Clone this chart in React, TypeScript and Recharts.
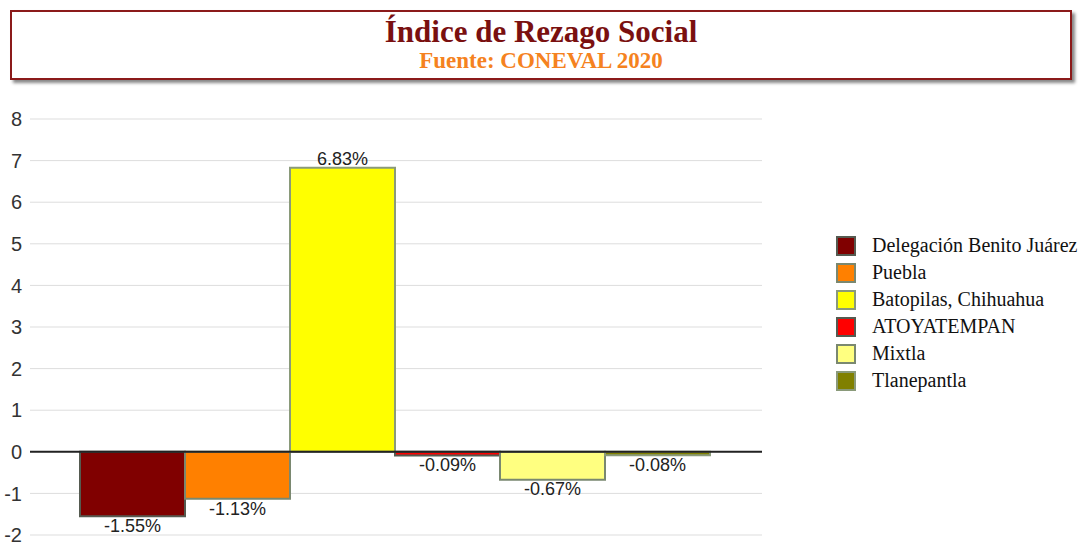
import { BarChart, Bar, XAxis, YAxis, CartesianGrid, ReferenceLine, LabelList } from "recharts";

const municipios = [
  "Delegación Benito Juárez",
  "Puebla",
  "Batopilas, Chihuahua",
  "ATOYATEMPAN",
  "Mixtla",
  "Tlanepantla",
];
const indices = [-1.55, -1.13, 6.83, -0.09, -0.67, -0.08];
const colores = ["#800000", "#ff8000", "#ffff00", "#ff0000", "#ffff80", "#808000"];
const bordes = ["#555a50", "#7a8870", "#8a9a7a", "#555a50", "#7a8870", "#8a9a7a"];
const yTicks = [-2, -1, 0, 1, 2, 3, 4, 5, 6, 7, 8];

const row: Record<string, number | string> = { name: "Índice" };
municipios.forEach((m, i) => {
  row[`s${i}`] = indices[i];
});
const data = [row];

const serif = '"Liberation Serif", "Times New Roman", serif';
const sans = '"Liberation Sans", Arial, sans-serif';

function LegendBox() {
  return (
    <div style={{ position: "absolute", left: 836, top: 232, fontFamily: serif, fontSize: 20, color: "#111", whiteSpace: "nowrap" }}>
      {municipios.map((m, i) => (
        <div key={m} style={{ display: "flex", alignItems: "center", height: 27 }}>
          <div
            style={{
              width: 16,
              height: 16,
              background: colores[i],
              border: `2px solid ${bordes[i]}`,
              marginRight: 16,
            }}
          />
          <span>{m}</span>
        </div>
      ))}
    </div>
  );
}

export default function App() {
  return (
    <div style={{ position: "absolute", left: 0, top: 0, width: 1082, height: 544, background: "#fff", overflow: "hidden" }}>
      <div
        style={{
          position: "absolute",
          left: 10,
          top: 10,
          width: 1058,
          height: 66,
          border: "2px solid #8b1a1a",
          boxShadow: "3px 3px 3px #888",
          textAlign: "center",
          fontFamily: serif,
          fontWeight: "bold",
        }}
      >
        <div style={{ color: "#7a1010", fontSize: 31, marginTop: 3, lineHeight: "34px" }}>Índice de Rezago Social</div>
        <div style={{ color: "#f58220", fontSize: 23, lineHeight: "24px" }}>Fuente: CONEVAL 2020</div>
      </div>
      <div style={{ position: "absolute", left: 0, top: 0 }}>
        <BarChart
          width={1082}
          height={544}
          data={data}
          margin={{ top: 119, right: 320, bottom: 9, left: 0 }}
          barCategoryGap={50}
          barGap={0}
        >
          <CartesianGrid stroke="#dddddd" vertical={false} />
          <XAxis dataKey="name" hide />
          <YAxis
            domain={[-2, 8]}
            ticks={yTicks}
            width={30}
            axisLine={false}
            tickLine={false}
            tick={{ fontFamily: sans, fontSize: 20, fill: "#333" }}
            interval={0}
          />
          <ReferenceLine y={0} stroke="#222" strokeWidth={2} />
          {municipios.map((m, i) => (
            <Bar
              key={m}
              dataKey={`s${i}`}
              name={m}
              fill={colores[i]}
              stroke={bordes[i]}
              strokeWidth={2}
              isAnimationActive={false}
            >
              <LabelList
                dataKey={`s${i}`}
                position="top"
                offset={3}
                formatter={(v: number) => `${v.toFixed(2)}%`}
                style={{ fontFamily: sans, fontSize: 18, fill: "#222" }}
              />
            </Bar>
          ))}
        </BarChart>
      </div>
      <LegendBox />
    </div>
  );
}
